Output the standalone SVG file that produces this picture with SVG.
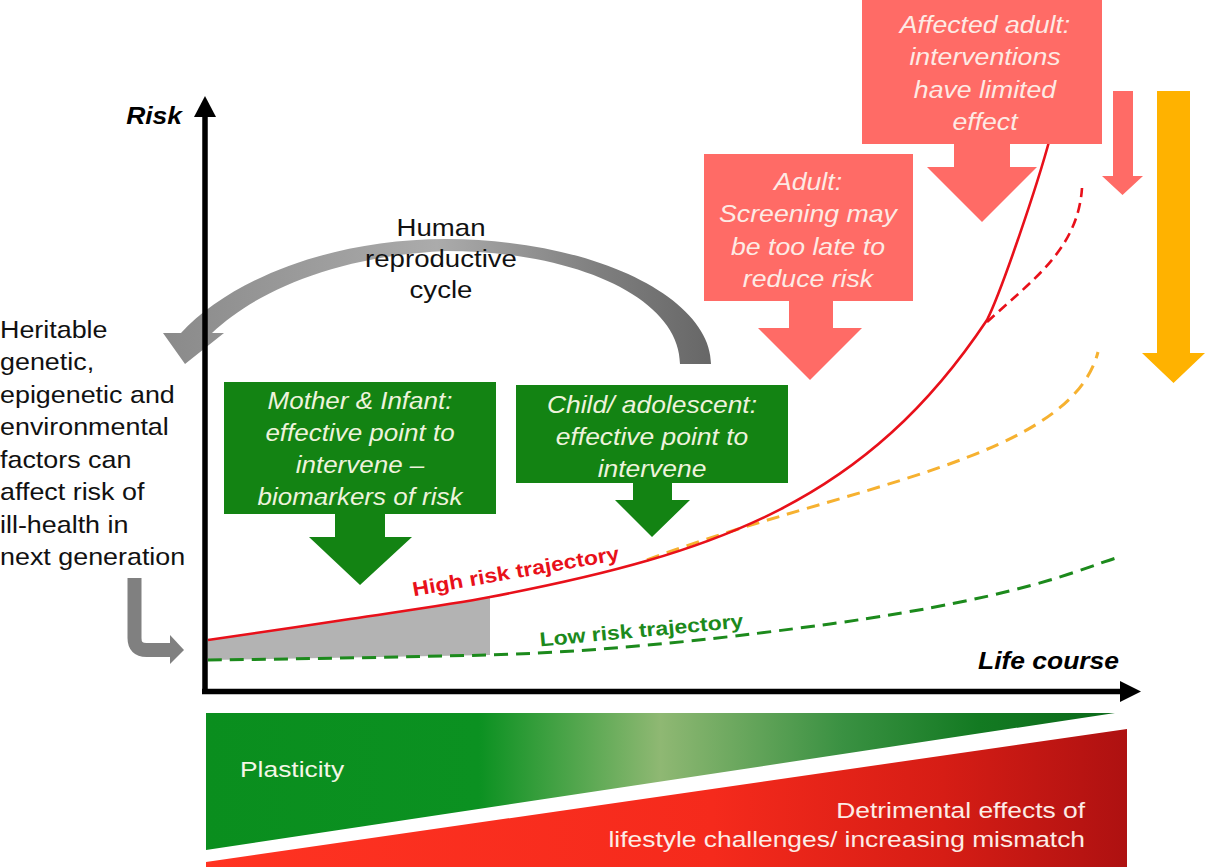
<svg xmlns="http://www.w3.org/2000/svg" width="1206" height="867" viewBox="0 0 1206 867">
<defs>
<style>
text { font-family: "Liberation Sans", Arial, sans-serif; }
.lbl { font-size: 24px; fill: #111111; }
.ax { font-size: 23px; font-weight: bold; font-style: italic; fill: #000000; text-anchor: end; }
.bt { font-size: 23px; font-style: italic; text-anchor: middle; }
.gt { fill: #eef3dc; }
.rt { fill: #fdeae4; }
.gbox { fill: #138313; }
.rbox { fill: #ff6b66; }
.axis { stroke: #000000; stroke-width: 5.5; fill: none; }
.hi { stroke: #e8101a; stroke-width: 2.6; fill: none; }
.hid { stroke: #e8101a; stroke-width: 2.6; fill: none; stroke-dasharray: 10 6; }
.ord { stroke: #f6b130; stroke-width: 3; fill: none; stroke-dasharray: 13 8; }
.lod { stroke: #1c8a1c; stroke-width: 3; fill: none; stroke-dasharray: 14 8; }
.traj { font-size: 20px; font-weight: bold; text-anchor: middle; }
.bar { font-size: 22px; }
</style>
<linearGradient id="arcGrad" gradientUnits="userSpaceOnUse" x1="163" y1="0" x2="711" y2="0">
<stop offset="0" stop-color="#8a8a8a"/>
<stop offset="0.5" stop-color="#ababab"/>
<stop offset="0.8" stop-color="#7e7e7e"/>
<stop offset="1" stop-color="#676767"/>
</linearGradient>
<linearGradient id="gGrad" gradientUnits="userSpaceOnUse" x1="206" y1="0" x2="1115" y2="0">
<stop offset="0" stop-color="#0a8e1e"/>
<stop offset="0.3" stop-color="#0b9121"/>
<stop offset="0.5" stop-color="#8fb873"/>
<stop offset="0.7" stop-color="#3a9142"/>
<stop offset="0.85" stop-color="#137a22"/>
<stop offset="1" stop-color="#0b6a1a"/>
</linearGradient>
<linearGradient id="rGrad" gradientUnits="userSpaceOnUse" x1="206" y1="0" x2="1127" y2="0">
<stop offset="0" stop-color="#ff3322"/>
<stop offset="0.55" stop-color="#f52a1c"/>
<stop offset="0.8" stop-color="#d61d15"/>
<stop offset="1" stop-color="#ae1111"/>
</linearGradient>
</defs>

<rect x="0" y="0" width="1206" height="867" fill="#ffffff"/>

<g id="bars">
<polygon points="206,713 1115,713 206,850" fill="url(#gGrad)"/>
<polygon points="206,862 1127,729 1127,867 206,867" fill="url(#rGrad)"/>
<g transform="translate(240,0) scale(1.2,1)"><text class="bar" x="0" y="777" fill="#f4f6e6">Plasticity</text></g>
<g transform="translate(1085,0) scale(1.2,1)">
<text class="bar" x="0" y="818" fill="#fcece6" text-anchor="end">Detrimental effects of</text>
<text class="bar" x="0" y="847" fill="#fcece6" text-anchor="end">lifestyle challenges/ increasing mismatch</text>
</g>
</g>

<g id="connectors">
<path d="M208,640 C231.7,636.5 303,626.2 350,619 C397,611.8 448.3,605 490,597 L490,655 L208,660 Z" fill="#b3b3b3"/>
<path class="lod" d="M208,660 C300,659 400,657 490,655 C620,651 740,636 830,624 C930,610 1000,595 1050,580 C1080,571 1100,563 1116,558"/>
<path class="ord" d="M647,560 C847,485 1070,460 1098,352"/>
<path class="hid" d="M987,322 C1030,282 1078,250 1082,188"/>
<path class="hi" d="M208,640 C231.7,636.5 303,626.2 350,619 C397,611.8 448.3,605 490,597 C720,553.3 867,500 987,320 C1002,290 1038,183 1050,138"/>
<path d="M711,364 C711,300 600,240 446,239 C330,239 230,280 181,333 L163,333 L185,364 L224,333 L212,333 C255,292 335,256 446,251 C580,251 680,300 680,364 Z" fill="url(#arcGrad)"/>
<path d="M134.5,578 V638 Q134.5,650 146.5,650 H171" stroke="#808080" stroke-width="14" fill="none"/>
<polygon points="170,635 184,650 170,664" fill="#808080"/>
<line class="axis" x1="205" y1="112" x2="205" y2="694"/>
<polygon points="205,96 194,117 216,117" fill="#000000"/>
<line class="axis" x1="202" y1="691.5" x2="1124" y2="691.5"/>
<polygon points="1141,691.5 1120,681 1120,702" fill="#000000"/>
</g>

<g id="axis-labels">
<g transform="translate(182,124) scale(1.15,1)"><text class="ax" x="0" y="0">Risk</text></g>
<g transform="translate(1119,669) scale(1.15,1)"><text class="ax" x="0" y="0">Life course</text></g>
</g>

<g id="trajectory-labels">
<g transform="translate(517,578) rotate(-10) scale(1.15,1)"><text class="traj" x="0" y="0" fill="#e8101a">High risk trajectory</text></g>
<g transform="translate(642,637) rotate(-5.3) scale(1.15,1)"><text class="traj" x="0" y="0" fill="#1c8a1c">Low risk trajectory</text></g>
</g>

<g id="cycle-label" transform="translate(441,0) scale(1.15,1)">
<text class="lbl" x="0" y="236" text-anchor="middle" font-size="23">Human</text>
<text class="lbl" x="0" y="267" text-anchor="middle" font-size="23">reproductive</text>
<text class="lbl" x="0" y="298" text-anchor="middle" font-size="23">cycle</text>
</g>

<g id="heritable-note" transform="scale(1.12,1)">
<text class="lbl" x="0" y="338">Heritable</text>
<text class="lbl" x="0" y="370.5">genetic,</text>
<text class="lbl" x="0" y="403">epigenetic and</text>
<text class="lbl" x="0" y="435.5">environmental</text>
<text class="lbl" x="0" y="468">factors can</text>
<text class="lbl" x="0" y="500.5">affect risk of</text>
<text class="lbl" x="0" y="533">ill-health in</text>
<text class="lbl" x="0" y="565.5">next generation</text>
</g>

<g id="mother-infant">
<path class="gbox" d="M224,382 H496 V514 H385 V537 H412 L360,585 L309,537 H335 V514 H224 Z"/>
<g transform="translate(360,0) scale(1.13,1)">
<text class="bt gt" x="0" y="409">Mother &amp; Infant:</text>
<text class="bt gt" x="0" y="441">effective point to</text>
<text class="bt gt" x="0" y="473">intervene –</text>
<text class="bt gt" x="0" y="505">biomarkers of risk</text>
</g>
</g>

<g id="child-adolescent">
<path class="gbox" d="M516,385 H788 V483 H672 V500 H690 L652,537 L615,500 H633 V483 H516 Z"/>
<g transform="translate(652,0) scale(1.15,1)">
<text class="bt gt" x="0" y="413">Child/ adolescent:</text>
<text class="bt gt" x="0" y="445">effective point to</text>
<text class="bt gt" x="0" y="477">intervene</text>
</g>
</g>

<g id="adult">
<path class="rbox" d="M704,154 H913 V301 H833 V328 H862 L810,380 L758,328 H789 V301 H704 Z"/>
<g transform="translate(808,0) scale(1.16,1)">
<text class="bt rt" x="0" y="190">Adult:</text>
<text class="bt rt" x="0" y="222">Screening may</text>
<text class="bt rt" x="0" y="255">be too late to</text>
<text class="bt rt" x="0" y="287">reduce risk</text>
</g>
</g>

<g id="affected-adult">
<path class="rbox" d="M862,0 H1102 V144 H1010 V167 H1037 L982,222 L927,167 H954 V144 H862 Z"/>
<g transform="translate(985,0) scale(1.16,1)">
<text class="bt rt" x="0" y="33">Affected adult:</text>
<text class="bt rt" x="0" y="65">interventions</text>
<text class="bt rt" x="0" y="98">have limited</text>
<text class="bt rt" x="0" y="130">effect</text>
</g>
</g>

<g id="small-red-arrow">
<path class="rbox" d="M1113,91 H1133 V176 H1143 L1122.5,195 L1102,176 H1113 Z"/>
</g>

<g id="orange-arrow">
<path fill="#ffb200" d="M1157,91 H1190 V353 H1205 L1173.5,383 L1142,353 H1157 Z"/>
</g>
</svg>
